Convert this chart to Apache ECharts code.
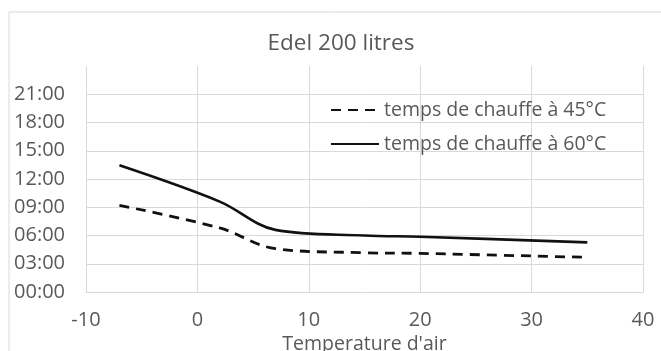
<!DOCTYPE html>
<html>
<head>
<meta charset="utf-8">
<script src="https://cdn.jsdelivr.net/npm/echarts@6/dist/echarts.min.js"></script>
<style>
html,body{margin:0;padding:0;background:#fff;}
#chart{width:661px;height:351px;}
</style>
</head>
<body>
<div id="chart"></div>
<script>
// Data (air temperature in °C, heating time in hours)
var airTemps = [-7, 2, 7, 15, 20, 35];
var time45 = [9.2, 6.8, 4.6, 4.17, 4.1, 3.68];
var time60 = [13.45, 9.6, 6.6, 6.0, 5.87, 5.27];
var seriesNames = ['temps de chauffe à 45°C', 'temps de chauffe à 60°C'];
var titleText = 'Edel 200 litres';
var xAxisTitle = "Temperature d'air";
var yTickHours = [0, 3, 6, 9, 12, 15, 18, 21];

function pairs(xs, ys) { return xs.map(function (x, i) { return [x, ys[i]]; }); }
function fmtHour(v) {
  if (yTickHours.indexOf(v) < 0) return '';
  return (v < 10 ? '0' : '') + v + ':00';
}

var txt = '#595959';
var grid = '#d9d9d9';
var font = 'Open Sans';

var chart = echarts.init(document.getElementById('chart'), null, {renderer: 'canvas'});
chart.setOption({
  animation: false,
  backgroundColor: '#fff',
  textStyle: {fontFamily: font},
  graphic: [{
    type: 'rect', shape: {x: 9, y: 12, width: 700, height: 400},
    style: {fill: 'none', stroke: '#d9d9d9', lineWidth: 1}, silent: true, z: -1
  }],
  title: {
    text: titleText, left: 336, top: 27, textAlign: 'center',
    textStyle: {fontFamily: font, fontSize: 22.5, fontWeight: 'normal', color: txt}
  },
  legend: {
    orient: 'vertical', left: 325, top: 94,
    itemWidth: 48, itemHeight: 14, itemGap: 12,
    data: seriesNames,
    itemStyle: {color: 'rgba(0,0,0,0)', borderWidth: 0},
    textStyle: {fontFamily: font, fontSize: 19.5, color: txt, lineHeight: 22}
  },
  grid: {left: 86, right: 18, top: 66, bottom: 59, containLabel: false, outerBoundsMode: 'none'},
  xAxis: {
    type: 'value', min: -10, max: 40, interval: 10,
    name: xAxisTitle, nameLocation: 'middle', nameGap: 32,
    nameTextStyle: {fontFamily: font, fontSize: 19.5, color: txt},
    axisLine: {show: true, lineStyle: {color: grid, width: 1}},
    axisTick: {show: false},
    axisLabel: {fontFamily: font, fontSize: 20, color: txt, margin: 18},
    splitLine: {show: true, lineStyle: {color: grid, width: 1}}
  },
  yAxis: {
    type: 'value', min: 0, max: 24, interval: 3,
    axisLine: {show: false}, axisTick: {show: false},
    axisLabel: {fontFamily: font, fontSize: 20, color: txt, margin: 21, formatter: fmtHour},
    splitLine: {show: true, lineStyle: {
      color: [grid, grid, grid, grid, grid, grid, grid, grid, 'rgba(0,0,0,0)'], width: 1}}
  },
  series: [
    {
      name: seriesNames[0], type: 'line', data: pairs(airTemps, time45),
      smooth: 0.35, symbol: 'none',
      lineStyle: {color: '#111', width: 2.8, type: [10, 7]},
      itemStyle: {color: '#111'}
    },
    {
      name: seriesNames[1], type: 'line', data: pairs(airTemps, time60),
      smooth: 0.35, symbol: 'none',
      lineStyle: {color: '#111', width: 2.6, type: 'solid'},
      itemStyle: {color: '#111'}
    }
  ]
});
</script>
</body>
</html>
